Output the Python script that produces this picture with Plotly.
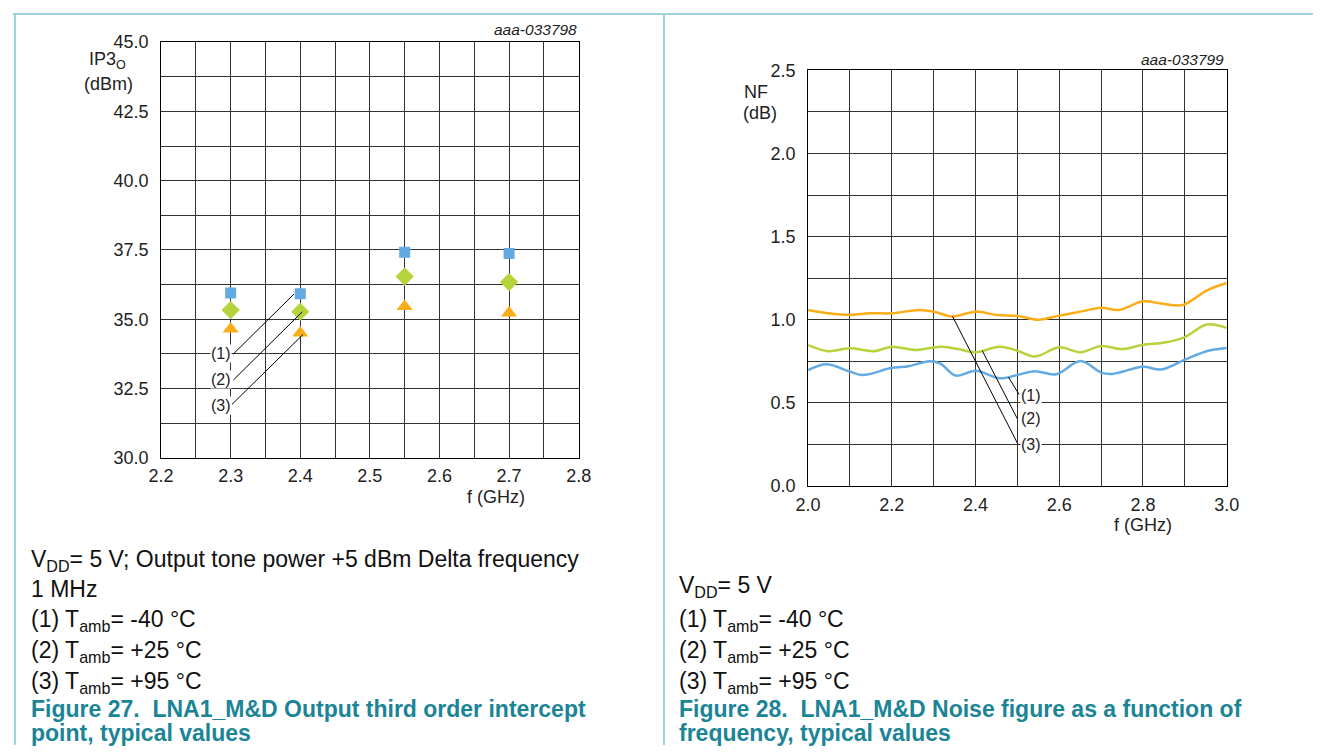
import plotly.graph_objects as go

W, H = 1326, 755

# ---------------- Figure 27: output IP3 vs frequency ----------------
ip3_freq = [2.3, 2.4, 2.55, 2.7]
ip3_m40 = [35.95, 35.92, 37.42, 37.37]   # (1) Tamb = -40 °C
ip3_p25 = [35.33, 35.27, 36.54, 36.34]   # (2) Tamb = +25 °C
ip3_p95 = [34.65, 34.50, 35.46, 35.23]   # (3) Tamb = +95 °C

# ---------------- Figure 28: noise figure vs frequency ----------------
nf_freq_m40 = [2.0, 2.044, 2.1, 2.131, 2.2, 2.24, 2.29, 2.316, 2.353, 2.4, 2.458,
               2.5, 2.542, 2.592, 2.651, 2.7, 2.726, 2.8, 2.843, 2.9, 2.952, 3.0]
nf_m40 = [0.697, 0.732, 0.688, 0.668, 0.711, 0.721, 0.750, 0.736, 0.664, 0.693, 0.648,
          0.668, 0.691, 0.672, 0.752, 0.682, 0.674, 0.717, 0.701, 0.760, 0.811, 0.830]

nf_freq_p25 = [2.0, 2.048, 2.1, 2.157, 2.2, 2.257, 2.316, 2.358, 2.4, 2.458, 2.5,
               2.542, 2.6, 2.651, 2.7, 2.751, 2.8, 2.852, 2.9, 2.952, 3.0]
nf_p25 = [0.848, 0.811, 0.828, 0.811, 0.838, 0.818, 0.838, 0.824, 0.805, 0.838, 0.814,
          0.779, 0.834, 0.805, 0.842, 0.824, 0.850, 0.863, 0.896, 0.971, 0.951]

nf_freq_p95 = [2.0, 2.048, 2.1, 2.148, 2.2, 2.265, 2.3, 2.345, 2.4, 2.45, 2.5,
               2.55, 2.6, 2.65, 2.7, 2.743, 2.8, 2.843, 2.894, 2.952, 3.0]
nf_p95 = [1.059, 1.039, 1.029, 1.039, 1.039, 1.059, 1.049, 1.020, 1.049, 1.029, 1.023,
          1.000, 1.025, 1.049, 1.072, 1.059, 1.111, 1.098, 1.088, 1.176, 1.221]

curve_labels = ["(1)", "(2)", "(3)"]

# callout label anchors and leader-line ends (data units)
ip3_label_pos = [(2.286, 33.76), (2.286, 32.81), (2.286, 31.90)]
ip3_leaders = [((2.304, 33.75), (2.391, 35.91)),
               ((2.304, 32.81), (2.403, 35.27)),
               ((2.302, 31.93), (2.404, 34.45))]
nf_label_pos = [(2.532, 0.545), (2.532, 0.404), (2.532, 0.250)]
nf_leaders = [((2.504, 0.551), (2.479, 0.654)),
              ((2.500, 0.404), (2.416, 0.814)),
              ((2.500, 0.258), (2.345, 1.020))]

BLUE = "#64aae2"
GREEN = "#b5d33a"
ORANGE = "#fbad18"
TEAL = "#1b8496"
BORDER = "#9fd2da"
FONT = "Liberation Sans, Arial, sans-serif"


def px_x(x):
    return x / W


def px_y(y):
    return 1 - y / H


fig = go.Figure()

# IP3 markers
for ys, sym, col, size in [(ip3_m40, "square", BLUE, 11),
                           (ip3_p25, "diamond", GREEN, 14),
                           (ip3_p95, "triangle-up", ORANGE, 14)]:
    fig.add_trace(go.Scatter(x=ip3_freq, y=ys, mode="markers",
                             marker=dict(symbol=sym, color=col, size=size, line=dict(width=0)),
                             xaxis="x", yaxis="y", showlegend=False))

# NF curves
for xs, ys, col in [(nf_freq_m40, nf_m40, BLUE),
                    (nf_freq_p25, nf_p25, GREEN),
                    (nf_freq_p95, nf_p95, ORANGE)]:
    fig.add_trace(go.Scatter(x=xs, y=ys, mode="lines",
                             line=dict(color=col, width=2.5, shape="spline", smoothing=1.0),
                             xaxis="x2", yaxis="y2", showlegend=False))

# leader lines
for (a, b) in ip3_leaders:
    fig.add_trace(go.Scatter(x=[a[0], b[0]], y=[a[1], b[1]], mode="lines",
                             line=dict(color="black", width=1), xaxis="x", yaxis="y",
                             showlegend=False, hoverinfo="skip"))
for (a, b) in nf_leaders:
    fig.add_trace(go.Scatter(x=[a[0], b[0]], y=[a[1], b[1]], mode="lines",
                             line=dict(color="black", width=1), xaxis="x2", yaxis="y2",
                             showlegend=False, hoverinfo="skip"))

annotations = []
for lab, (lx, ly) in zip(curve_labels, ip3_label_pos):
    annotations.append(dict(x=lx, y=ly, xref="x", yref="y", text=lab, showarrow=False,
                            font=dict(family=FONT, size=16, color="#222"),
                            bgcolor="white", borderpad=0))
for lab, (lx, ly) in zip(curve_labels, nf_label_pos):
    annotations.append(dict(x=lx, y=ly, xref="x2", yref="y2", text=lab, showarrow=False,
                            font=dict(family=FONT, size=16, color="#222"),
                            bgcolor="white", borderpad=0))

# figure codes
annotations.append(dict(x=px_x(577), y=px_y(20), xref="paper", yref="paper", xanchor="right",
                        yanchor="middle", text="<i>aaa-033798</i>", showarrow=False,
                        font=dict(family=FONT, size=15.5, color="#222")))
annotations.append(dict(x=px_x(1237), y=px_y(51), xref="paper", yref="paper", xanchor="right",
                        yanchor="middle", text="<i>aaa-033799</i>", showarrow=False,
                        font=dict(family=FONT, size=15.5, color="#222")))

# axis titles
for txt, x, y in [("IP3<sub>O</sub>", 96, 52), ("(dBm)", 97, 76),
                  ("NF", 758, 84), ("(dB)", 762, 106),
                  ("f (GHz)", 493, 500), ("f (GHz)", 1153, 529)]:
    annotations.append(dict(x=px_x(x), y=px_y(y), xref="paper", yref="paper", xanchor="center",
                            yanchor="middle", text=txt, showarrow=False,
                            font=dict(family=FONT, size=18, color="#222")))

# notes and captions (the first left note wraps onto a second line)
notes_left = [("V<sub>DD</sub>= 5 V; Output tone power +5 dBm Delta frequency<br>1 MHz", 579),
              ("(1) T<sub>amb</sub>= -40 °C", 627),
              ("(2) T<sub>amb</sub>= +25 °C", 659),
              ("(3) T<sub>amb</sub>= +95 °C", 691)]
notes_right = [("V<sub>DD</sub>= 5 V", 592),
               ("(1) T<sub>amb</sub>= -40 °C", 627),
               ("(2) T<sub>amb</sub>= +25 °C", 659),
               ("(3) T<sub>amb</sub>= +95 °C", 691)]
captions_left = [("Figure 27.&nbsp; LNA1_M&D Output third order intercept", 718),
                 ("point, typical values", 743)]
captions_right = [("Figure 28.&nbsp; LNA1_M&D Noise figure as a function of", 718),
                  ("frequency, typical values", 743)]

for lines, x0 in [(notes_left, 16), (notes_right, 677)]:
    for txt, y in lines:
        annotations.append(dict(x=px_x(x0), y=px_y(y), xref="paper", yref="paper", xanchor="left",
                                yanchor="middle", align="left", text=txt, showarrow=False,
                                font=dict(family=FONT, size=23, color="#111")))
for lines, x0 in [(captions_left, 16), (captions_right, 677)]:
    for txt, y in lines:
        annotations.append(dict(x=px_x(x0), y=px_y(y), xref="paper", yref="paper", xanchor="left",
                                yanchor="middle", text="<b>" + txt + "</b>", showarrow=False,
                                font=dict(family=FONT, size=23, color=TEAL)))

# page frame lines
shapes = [
    dict(type="line", xref="paper", yref="paper", x0=0, x1=1, y0=px_y(4), y1=px_y(4),
         line=dict(color=BORDER, width=2)),
    dict(type="line", xref="paper", yref="paper", x0=px_x(2), x1=px_x(2), y0=0, y1=px_y(4),
         line=dict(color=BORDER, width=2)),
    dict(type="line", xref="paper", yref="paper", x0=px_x(664), x1=px_x(664), y0=0, y1=px_y(4),
         line=dict(color=BORDER, width=2)),
]

GRID = "#333333"
axis_common = dict(showline=True, linecolor="black", linewidth=1, mirror=True,
                   showgrid=True, gridcolor=GRID, gridwidth=1, zeroline=False,
                   ticks="", tickfont=dict(family=FONT, size=18, color="#222"),
                   fixedrange=True)

fig.update_layout(
    width=W, height=H,
    margin=dict(l=0, r=0, t=0, b=0),
    paper_bgcolor="white", plot_bgcolor="white",
    showlegend=False,
    xaxis=dict(domain=[px_x(151), px_x(577)], range=[2.2, 2.8], dtick=0.1, tick0=2.2,
               tickformat=".1f", anchor="y", ticklabelstandoff=2,
               minor=dict(dtick=0.05, tick0=2.2, showgrid=True, gridcolor=GRID, gridwidth=1),
               **axis_common),
    yaxis=dict(domain=[px_y(460), px_y(33)], range=[30, 45], dtick=2.5, tick0=30,
               tickformat=".1f", anchor="x", ticklabelstandoff=8,
               minor=dict(dtick=1.25, tick0=30, showgrid=True, gridcolor=GRID, gridwidth=1),
               **axis_common),
    xaxis2=dict(domain=[px_x(811), px_x(1238)], range=[2.0, 3.0], dtick=0.2, tick0=2.0,
                tickformat=".1f", anchor="y2", ticklabelstandoff=2,
                minor=dict(dtick=0.1, tick0=2.0, showgrid=True, gridcolor=GRID, gridwidth=1),
                **axis_common),
    yaxis2=dict(domain=[px_y(489), px_y(62)], range=[0, 2.5], dtick=0.5, tick0=0,
                tickformat=".1f", anchor="x2", ticklabelstandoff=8,
                minor=dict(dtick=0.25, tick0=0, showgrid=True, gridcolor=GRID, gridwidth=1),
                **axis_common),
    annotations=annotations,
    shapes=shapes,
)

fig.write_html("out.html")
